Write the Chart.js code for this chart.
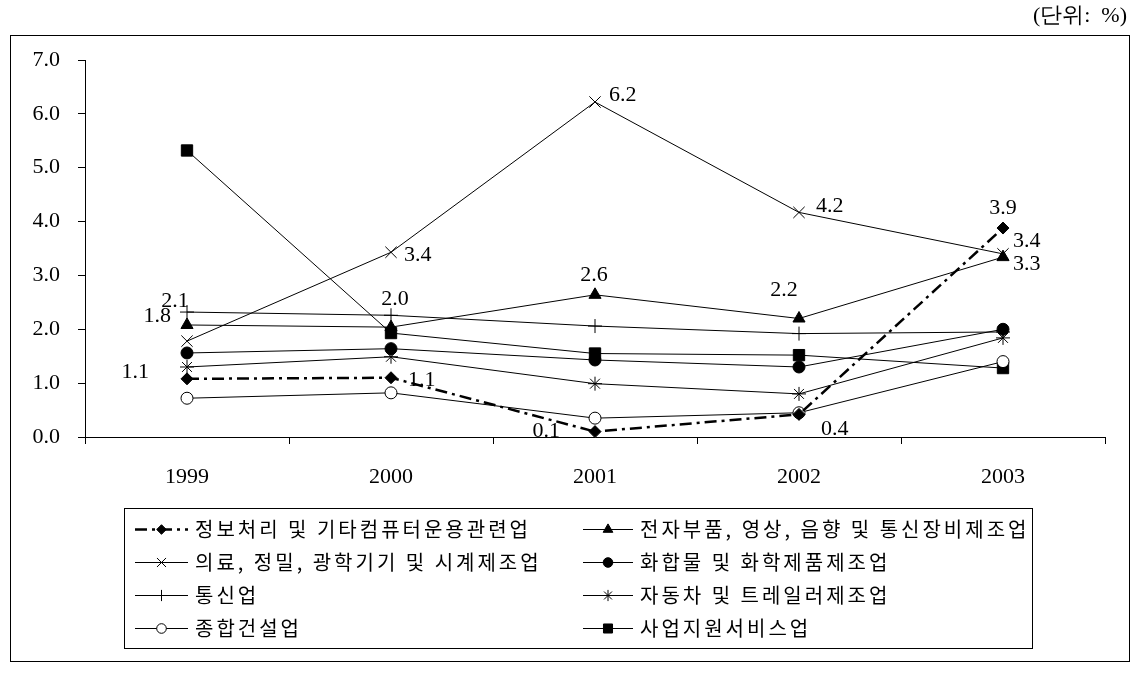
<!DOCTYPE html>
<html>
<head>
<meta charset="utf-8">
<script src="https://cdn.jsdelivr.net/npm/chart.js@4/dist/chart.umd.min.js"></script>
<style>
  html, body { margin: 0; padding: 0; background: #fff; }
  canvas { display: block; }
</style>
</head>
<body>
<canvas id="rateChart" width="1147" height="677"></canvas>
<script>
// categories and series values (%)
const years = ['1999', '2000', '2001', '2002', '2003'];
const infoProc = [1.08, 1.1, 0.1, 0.42, 3.88];
const electronics = [2.08, 2.04, 2.64, 2.2, 3.34];
const medical = [1.78, 3.43, 6.22, 4.17, 3.4];
const chemical = [1.56, 1.64, 1.43, 1.3, 2.0];
const telecom = [2.32, 2.26, 2.06, 1.92, 1.95];
const autos = [1.3, 1.49, 0.99, 0.8, 1.84];
const construction = [0.72, 0.82, 0.35, 0.45, 1.4];
const bizService = [5.32, 1.93, 1.55, 1.52, 1.28];
const yTicks = [0, 1, 2, 3, 4, 5, 6, 7];

const names = [
    '정보처리 및 기타컴퓨터운용관련업',
    '전자부품, 영상, 음향 및 통신장비제조업',
    '의료, 정밀, 광학기기 및 시계제조업',
    '화합물 및 화학제품제조업',
    '통신업',
    '자동차 및 트레일러제조업',
    '종합건설업',
    '사업지원서비스업'
];

const numFont = "'Liberation Serif', 'Times New Roman', serif";
const krFont = "'Noto Sans CJK KR', sans-serif";

// which points get a value label: [dataset, point, dx, dy, align]
const labelSpots = [
    [0, 0, -38, -7, 'right'], [0, 1, 17, 2, 'left'], [0, 2, -35, 0, 'right'],
    [0, 3, 22, 15, 'left'], [0, 4, 0, -20, 'center'],
    [1, 0, -12, -24, 'center'], [1, 1, 4, -28, 'center'], [1, 2, -1, -20, 'center'],
    [1, 3, -15, -28, 'center'], [1, 4, 10, 7, 'left'],
    [2, 0, -16, -25, 'right'], [2, 1, 13, 3, 'left'], [2, 2, 14, -7, 'left'],
    [2, 3, 17, -6, 'left'], [2, 4, 10, -13, 'left']
];

function series(label, data, style, radius, extra) {
    return Object.assign({
        label: label,
        data: data,
        borderColor: '#000',
        backgroundColor: '#000',
        borderWidth: 1,
        pointStyle: style,
        pointRadius: radius,
        pointHoverRadius: radius,
        pointBackgroundColor: '#000',
        pointBorderColor: '#000',
        pointBorderWidth: 1,
        tension: 0,
        clip: false
    }, extra || {});
}

const frame = {
    id: 'frame',
    beforeDraw(chart) {
        const ctx = chart.ctx;
        ctx.save();
        ctx.fillStyle = '#fff';
        ctx.fillRect(0, 0, chart.width, chart.height);
        ctx.strokeStyle = '#000';
        ctx.lineWidth = 1;
        ctx.strokeRect(10.5, 35.5, 1119, 626);
        ctx.fillStyle = '#000';
        ctx.font = '22px ' + numFont;
        ctx.textAlign = 'right';
        ctx.textBaseline = 'alphabetic';
        ctx.fillText('(단위:  %)', 1127, 22);
        ctx.restore();
    }
};

const valueLabels = {
    id: 'valueLabels',
    afterDatasetsDraw(chart) {
        const ctx = chart.ctx;
        ctx.save();
        ctx.fillStyle = '#000';
        ctx.font = '22px ' + numFont;
        ctx.textBaseline = 'middle';
        labelSpots.forEach(([d, i, dx, dy, align]) => {
            const pt = chart.getDatasetMeta(d).data[i];
            const v = chart.data.datasets[d].data[i];
            ctx.textAlign = align;
            ctx.fillText(v.toFixed(1), pt.x + dx, pt.y + dy);
        });
        ctx.restore();
    }
};

const boxLegend = {
    id: 'boxLegend',
    afterDraw(chart) {
        const ctx = chart.ctx;
        ctx.save();
        ctx.strokeStyle = '#000';
        ctx.lineWidth = 1;
        ctx.strokeRect(124.5, 508.5, 908, 140);
        const cols = [{ x0: 135, x1: 188, tx: 195 }, { x0: 583, x1: 633, tx: 640 }];
        chart.data.datasets.forEach((ds, i) => {
            const c = cols[i % 2];
            const y = 529 + Math.floor(i / 2) * 33;
            ctx.beginPath();
            ctx.setLineDash(ds.borderDash || []);
            ctx.lineWidth = ds.borderWidth;
            ctx.strokeStyle = '#000';
            ctx.moveTo(c.x0, y + 0.5);
            ctx.lineTo(c.x1, y + 0.5);
            ctx.stroke();
            ctx.setLineDash([]);
            ctx.fillStyle = ds.pointBackgroundColor;
            ctx.strokeStyle = '#000';
            ctx.lineWidth = 1;
            Chart.helpers.drawPoint(ctx, {
                pointStyle: ds.pointStyle,
                radius: ds.pointRadius * 0.8,
                rotation: 0,
                borderWidth: 1
            }, (c.x0 + c.x1) / 2, y + 0.5);
            ctx.fillStyle = '#000';
            ctx.font = '20px ' + krFont;
            ctx.letterSpacing = '3px';
            ctx.textAlign = 'left';
            ctx.textBaseline = 'middle';
            ctx.fillText(ds.label, c.tx, y);
            ctx.letterSpacing = '0px';
        });
        ctx.restore();
    }
};

new Chart(document.getElementById('rateChart'), {
    type: 'line',
    data: {
        labels: years,
        datasets: [
            series(names[0], infoProc, 'rectRot', 6, { borderWidth: 2.5, borderDash: [12, 5, 3, 5] }),
            series(names[1], electronics, 'triangle', 7),
            series(names[2], medical, 'crossRot', 8),
            series(names[3], chemical, 'circle', 6),
            series(names[4], telecom, 'cross', 7),
            series(names[5], autos, 'star', 7),
            series(names[6], construction, 'circle', 6, { pointBackgroundColor: '#fff' }),
            series(names[7], bizService, 'rect', 8)
        ]
    },
    options: {
        responsive: false,
        animation: false,
        events: [],
        layout: { padding: { left: 0, right: 42, top: 60, bottom: 0 } },
        plugins: {
            legend: { display: false },
            tooltip: { enabled: false }
        },
        scales: {
            x: {
                offset: true,
                grid: { offset: true, drawOnChartArea: false, tickLength: 7, color: '#000' },
                border: { color: '#000', width: 1 },
                ticks: { color: '#000', font: { family: numFont, size: 22 }, padding: 20, maxRotation: 0 },
                afterFit(scale) { scale.height = 240; }
            },
            y: {
                min: 0,
                max: 7,
                afterBuildTicks(scale) { scale.ticks = yTicks.map(v => ({ value: v })); },
                grid: { drawOnChartArea: false, tickLength: 7, color: '#000' },
                border: { color: '#000', width: 1 },
                ticks: {
                    color: '#000',
                    font: { family: numFont, size: 22 },
                    padding: 18,
                    callback: v => Number(v).toFixed(1)
                },
                afterFit(scale) { scale.width = 85; }
            }
        }
    },
    plugins: [frame, valueLabels, boxLegend]
});
</script>
</body>
</html>
